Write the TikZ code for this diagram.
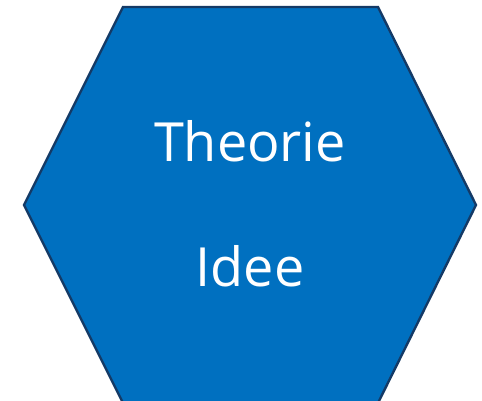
\documentclass[tikz,border=0pt]{standalone}
\usepackage{fontspec}
\setmainfont{Open Sans}
\definecolor{hexblue}{HTML}{0070C0}
\definecolor{hexnavy}{HTML}{143A66}

\begin{document}
\begin{tikzpicture}[x=1pt,y=1pt,
  hexlabel/.style={anchor=base, inner sep=0pt, text=white, font=\fontsize{54}{60}\selectfont}]
  \useasboundingbox (0,0) rectangle (482,401);
  \begin{scope}
    \clip (0,0) rectangle (482,401);
    \fill[hexblue, draw=hexnavy, line width=2.4pt, line join=miter]
      (123,394) -- (378,394) -- (476,196) -- (378,-2) -- (123,-2) -- (24,196) -- cycle;
  \end{scope}
  \node[hexlabel] (theorie) at (250,239.3) {Theorie};
  \node[hexlabel] (idee) at (250,114.3) {Idee};
\end{tikzpicture}
\end{document}
